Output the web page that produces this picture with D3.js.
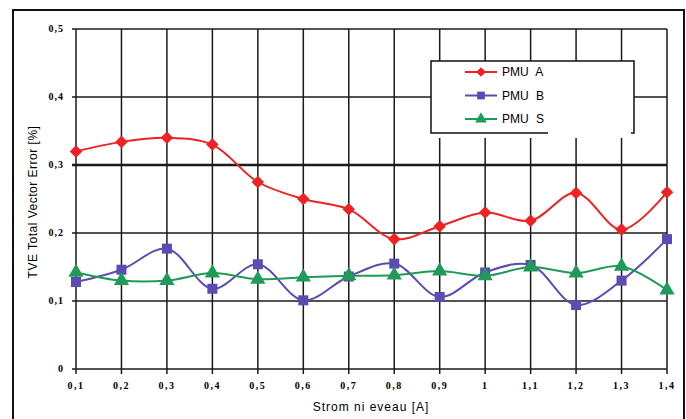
<!DOCTYPE html>
<meta charset="utf-8">
<html>
<head>
<script src="https://d3js.org/d3.v7.min.js"></script>
<style>
  body { margin: 0; background: #fff; }
  text { font-family: "Liberation Sans", Arial, sans-serif; }
</style>
</head>
<body>
<script>
// strom (A)
var strom = [0.1, 0.2, 0.3, 0.4, 0.5, 0.6, 0.7, 0.8, 0.9, 1.0, 1.1, 1.2, 1.3, 1.4];
var xLabels = ["0,1", "0,2", "0,3", "0,4", "0,5", "0,6", "0,7", "0,8", "0,9", "1", "1,1", "1,2", "1,3", "1,4"];
var yTicks = [0, 0.1, 0.2, 0.3, 0.4, 0.5];
var yLabels = ["0", "0,1", "0,2", "0,3", "0,4", "0,5"];

var pmuA = [0.320, 0.334, 0.340, 0.330, 0.275, 0.250, 0.235, 0.191, 0.210, 0.230, 0.218, 0.259, 0.205, 0.260];
var pmuB = [0.128, 0.146, 0.177, 0.118, 0.154, 0.101, 0.136, 0.155, 0.106, 0.142, 0.153, 0.094, 0.130, 0.191];
var pmuS = [0.142, 0.130, 0.130, 0.141, 0.132, 0.135, 0.137, 0.138, 0.144, 0.137, 0.150, 0.141, 0.151, 0.116];

var namen = ["PMU A", "PMU B", "PMU S"];
var farben = ["#ee2222", "#5b4bb2", "#1f9a58"];
var symbole = [d3.symbolDiamond2, d3.symbolSquare, d3.symbolTriangle];
var reihen = [pmuA, pmuB, pmuS];

var breite = 686, hoehe = 419;
var links = 76, rechts = 667, oben = 29, unten = 369;

var svg = d3.select("body").append("svg")
    .attr("width", breite)
    .attr("height", hoehe);

// outer frame
svg.append("rect")
    .attr("x", 13).attr("y", 10)
    .attr("width", 671).attr("height", 430)
    .attr("fill", "none").attr("stroke", "#111").attr("stroke-width", 2);

var x = d3.scaleLinear().domain([0.1, 1.4]).range([links, rechts]);
var y = d3.scaleLinear().domain([0, 0.5]).range([unten, oben]);

// grid
svg.append("g").selectAll("line").data(strom).enter().append("line")
    .attr("x1", d => x(d)).attr("x2", d => x(d))
    .attr("y1", oben).attr("y2", unten + 5)
    .attr("stroke", "#1a1a1a").attr("stroke-width", 1.5);

svg.append("g").selectAll("line").data(yTicks).enter().append("line")
    .attr("x1", links - 4).attr("x2", rechts)
    .attr("y1", d => y(d)).attr("y2", d => y(d))
    .attr("stroke", "#1a1a1a")
    .attr("stroke-width", d => Math.abs(d - 0.3) < 1e-9 ? 2.6 : 1.5);

// tick labels
svg.append("g").selectAll("text").data(strom).enter().append("text")
    .attr("x", d => x(d)).attr("y", 389)
    .attr("text-anchor", "middle")
    .style("font-size", "10px").style("font-weight", "bold")
    .style("font-family", "'Liberation Serif', serif")
    .style("letter-spacing", "1.5px")
    .text((d, i) => xLabels[i]);

svg.append("g").selectAll("text").data(yTicks).enter().append("text")
    .attr("x", 64).attr("y", d => y(d) + 3)
    .attr("text-anchor", "end")
    .style("font-size", "10px").style("font-weight", "bold")
    .style("font-family", "'Liberation Serif', serif")
    .style("letter-spacing", "1px")
    .text((d, i) => yLabels[i]);

// axis titles
svg.append("text")
    .attr("x", 371).attr("y", 411)
    .attr("text-anchor", "middle")
    .style("font-size", "12px")
    .style("letter-spacing", "1px")
    .text("Strom ni eveau [A]");

svg.append("text")
    .attr("transform", "translate(37,202) rotate(-90)")
    .attr("text-anchor", "middle")
    .style("font-size", "12px")
    .style("letter-spacing", "0.5px")
    .text("TVE Total Vector Error [%]");

// series
var linie = d3.line()
    .x((d, i) => x(strom[i]))
    .y(d => y(d))
    .curve(d3.curveCatmullRom.alpha(0.5));

reihen.forEach(function (werte, k) {
    var g = svg.append("g");
    g.append("path")
        .datum(werte)
        .attr("d", linie)
        .attr("fill", "none")
        .attr("stroke", farben[k])
        .attr("stroke-width", 2);
    g.selectAll("path.m").data(werte).enter().append("path")
        .attr("class", "m")
        .attr("transform", (d, i) => "translate(" + x(strom[i]) + "," + y(d) + ")")
        .attr("d", d3.symbol().type(symbole[k]).size(k === 0 ? 100 : 100))
        .attr("fill", farben[k]);
});

// legend
var leg = svg.append("g");
leg.append("rect")
    .attr("x", 431).attr("y", 61).attr("width", 203).attr("height", 77)
    .attr("fill", "#fff");
leg.append("path")
    .attr("d", "M548,133 L431,133 L431,61 L634,61 L634,133 L631,133")
    .attr("fill", "none").attr("stroke", "#111").attr("stroke-width", 1.5);

namen.forEach(function (n, k) {
    var ly = 72 + k * 23.5;
    leg.append("line")
        .attr("x1", 465).attr("x2", 497).attr("y1", ly).attr("y2", ly)
        .attr("stroke", farben[k]).attr("stroke-width", 2);
    leg.append("path")
        .attr("transform", "translate(481," + ly + ")")
        .attr("d", d3.symbol().type(symbole[k]).size(60))
        .attr("fill", farben[k]);
    leg.append("text")
        .attr("x", 502).attr("y", ly + 4)
        .style("font-size", "12px")
        .style("word-spacing", "4px")
        .text(n);
});
</script>
</body>
</html>
